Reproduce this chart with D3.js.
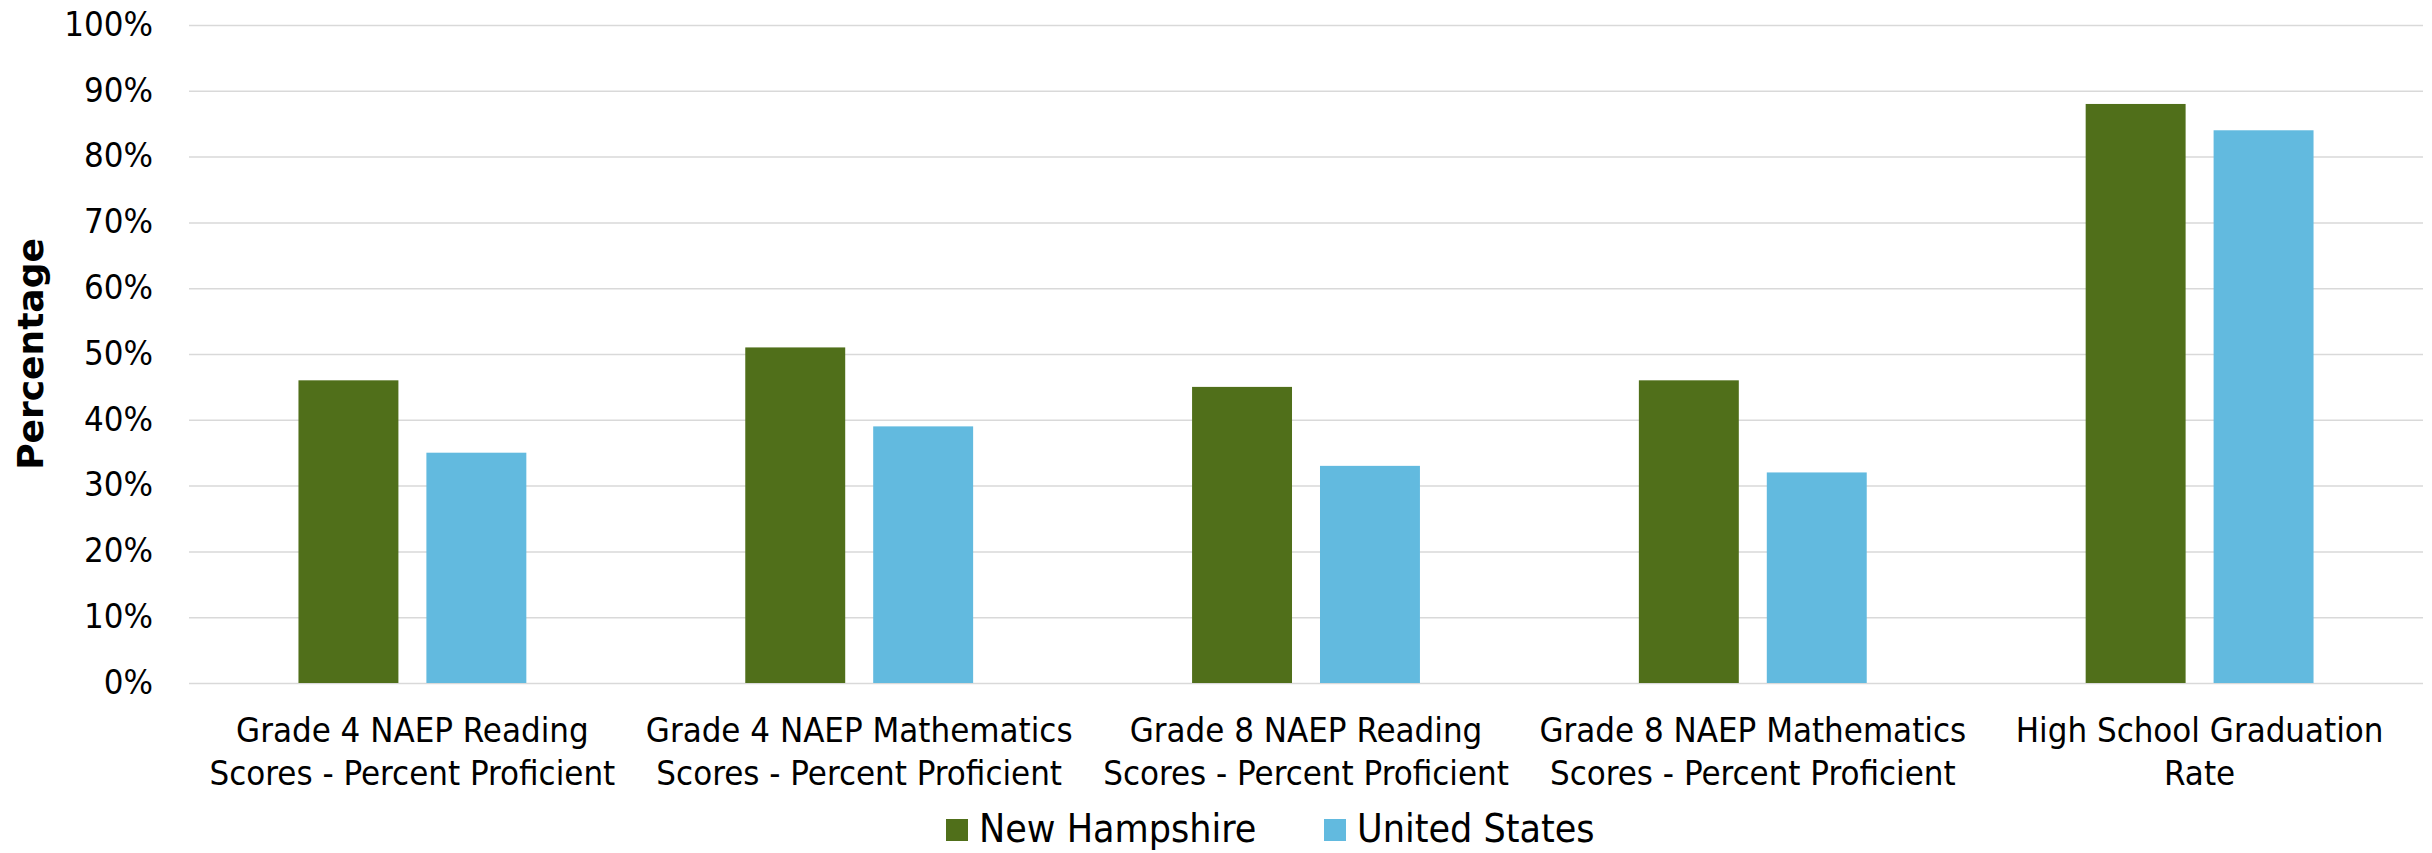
<!DOCTYPE html>
<html>
<head>
<meta charset="utf-8">
<script src="https://cdn.jsdelivr.net/npm/d3@7"></script>
<style>
  html, body { margin: 0; padding: 0; background: #fff; }
  svg text { font-family: "DejaVu Sans Condensed", "DejaVu Sans", sans-serif; font-stretch: condensed; fill: #000; }
  .grid line { stroke: #d9d9d9; stroke-width: 1.5; }
  .grid path { display: none; }
</style>
</head>
<body>
<svg id="chart" width="2432" height="853"></svg>
<script>
// --- data ---
const categories = [
    "Grade 4 NAEP Reading\nScores - Percent Proficient",
    "Grade 4 NAEP Mathematics\nScores - Percent Proficient",
    "Grade 8 NAEP Reading\nScores - Percent Proficient",
    "Grade 8 NAEP Mathematics\nScores - Percent Proficient",
    "High School Graduation\nRate"
];
const seriesNames = ["New Hampshire", "United States"];
const newHampshire = [46, 51, 45, 46, 88];
const unitedStates = [35, 39, 33, 32, 84];
const yTicks = [0, 10, 20, 30, 40, 50, 60, 70, 80, 90, 100];
const colors = ["#506f1a", "#62badf"];

// --- setup ---
const margin = { top: 25, right: 9, bottom: 170, left: 189 };
const W = 2432, H = 853;
const width = W - margin.left - margin.right;
const height = H - margin.top - margin.bottom;

const svg = d3.select("#chart");
const g = svg.append("g").attr("transform", `translate(${margin.left},${margin.top})`);

const x0 = d3.scaleBand().domain(categories).range([0, width]);
const groupWidth = x0.bandwidth() * 0.51;
const x1 = d3.scaleBand().domain(seriesNames).range([0, groupWidth]).paddingInner(0.21875);
const y = d3.scaleLinear().domain([0, 100]).range([height, 0]);
const color = d3.scaleOrdinal().domain(seriesNames).range(colors);

// gridlines
g.append("g")
    .attr("class", "grid")
    .call(d3.axisLeft(y).tickValues(yTicks).tickSize(-width).tickFormat(""));

// y tick labels
g.append("g")
    .call(d3.axisLeft(y).tickValues(yTicks).tickSize(0).tickPadding(36).tickFormat(d => d + "%"))
    .call(a => a.select(".domain").remove())
    .selectAll("text")
        .attr("font-size", 34.5)
        .attr("dy", "0.3em")
        .style("font-family", null);

// y axis title
svg.append("text")
    .attr("transform", `translate(43,${margin.top + height / 2}) rotate(-90)`)
    .attr("text-anchor", "middle")
    .attr("font-size", 36)
    .attr("font-weight", "bold")
    .style("font-stretch", "normal")
    .style("font-family", "'DejaVu Sans', sans-serif")
    .text("Percentage");

// bars
const rows = categories.map((c, i) => ({ cat: c, values: [newHampshire[i], unitedStates[i]] }));
const groups = g.selectAll(".group")
    .data(rows)
    .join("g")
    .attr("transform", d => `translate(${x0(d.cat) + (x0.bandwidth() - groupWidth) / 2},0)`);

groups.selectAll("rect")
    .data(d => d.values.map((v, j) => ({ key: seriesNames[j], value: v })))
    .join("rect")
    .attr("x", d => x1(d.key))
    .attr("y", d => y(d.value))
    .attr("width", x1.bandwidth())
    .attr("height", d => y(0) - y(d.value))
    .attr("fill", d => color(d.key));

// x axis labels
const xAxis = g.append("g")
    .attr("transform", `translate(0,${height})`)
    .call(d3.axisBottom(x0).tickSize(0).tickFormat(""));
xAxis.select(".domain").remove();
xAxis.selectAll(".tick").append("text")
    .attr("text-anchor", "middle")
    .attr("font-size", 34.5)
    .selectAll("tspan")
    .data(d => d.split("\n"))
    .join("tspan")
    .attr("x", 0)
    .attr("y", (d, i) => 59 + i * 43)
    .text(d => d);

// legend
const legendItems = [
    { name: seriesNames[0], x: 946 },
    { name: seriesNames[1], x: 1324 }
];
const legend = svg.append("g");
const li = legend.selectAll("g").data(legendItems).join("g")
    .attr("transform", d => `translate(${d.x},0)`);
li.append("rect")
    .attr("y", 819)
    .attr("width", 22)
    .attr("height", 22)
    .attr("fill", d => color(d.name));
li.append("text")
    .attr("x", 33)
    .attr("y", 842)
    .attr("font-size", 39)
    .text(d => d.name);
</script>
</body>
</html>
